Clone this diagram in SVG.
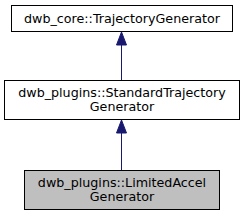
<svg xmlns="http://www.w3.org/2000/svg" width="244" height="216" viewBox="0 0 244 216">
<style>
.n{stroke:#000;stroke-width:1}
.t{font-family:"DejaVu Sans",sans-serif;font-size:12.7px;text-anchor:middle;fill:#000}
.e{stroke:#191970;stroke-width:1;fill:none}
.h{fill:#191970;stroke:#191970}
</style>
<rect width="244" height="216" fill="#fff"/>
<g id="connectors">
<line class="e" x1="121.5" y1="44" x2="121.5" y2="80.5"/>
<polygon class="h" points="121.5,32 116.5,45 126.5,45"/>
<line class="e" x1="121.5" y1="132" x2="121.5" y2="170"/>
<polygon class="h" points="121.5,120 116.5,133 126.5,133"/>
</g>
<g id="node1">
<rect class="n" x="11.5" y="5.5" width="221" height="26" fill="#fff"/>
<text class="t" x="122" y="23">dwb_core::TrajectoryGenerator</text>
</g>
<g id="node2">
<rect class="n" x="4.5" y="80.5" width="235" height="39" fill="#fff"/>
<text class="t" x="122" y="97">dwb_plugins::StandardTrajectory</text>
<text class="t" x="122" y="111">Generator</text>
</g>
<g id="node3">
<rect class="n" x="24.5" y="170.5" width="195" height="39" fill="#bfbfbf"/>
<text class="t" x="122" y="187">dwb_plugins::LimitedAccel</text>
<text class="t" x="122" y="201">Generator</text>
</g>
</svg>
